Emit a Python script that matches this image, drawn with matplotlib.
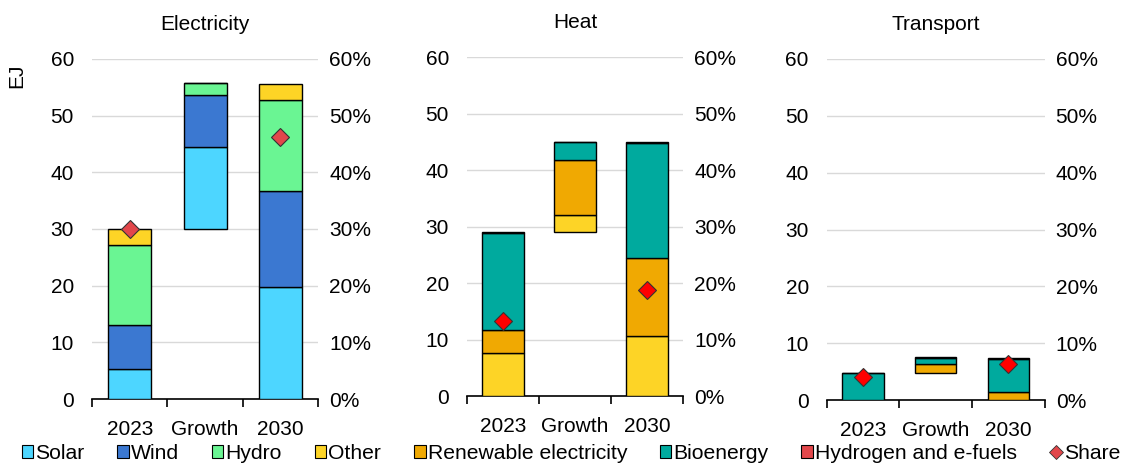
import numpy as np
import matplotlib.pyplot as plt
from matplotlib.patches import Patch
from matplotlib.lines import Line2D
from matplotlib.ticker import PercentFormatter

plt.rcParams['font.family'] = ['Liberation Sans', 'DejaVu Sans']
plt.rcParams['font.size'] = 15

categories = ['2023', 'Growth', '2030']

# Electricity (EJ) - segment sizes, base of each bar
elec_base = [0, 30.0, 0]
elec_solar = [5.3, 14.4, 19.7]
elec_wind = [7.8, 9.2, 17.0]
elec_hydro = [14.1, 2.1, 16.1]
elec_other = [2.8, 0.0, 2.7]
elec_share = [0.30, np.nan, 0.462]

# Heat (EJ)
heat_base = [0, 29.0, 0]
heat_other = [7.7, 3.0, 10.7]
heat_renew = [4.0, 9.8, 13.8]
heat_bio = [17.2, 3.1, 20.3]
heat_h2 = [0.1, 0.0, 0.1]
heat_share = [0.133, np.nan, 0.188]

# Transport (EJ)
trans_base = [0, 4.8, 0]
trans_renew = [0.05, 1.5, 1.5]
trans_bio = [4.7, 1.1, 5.8]
trans_h2 = [0.05, 0.1, 0.1]
trans_share = [0.040, np.nan, 0.064]

colors = {
    'Solar': '#4DD6FF',
    'Wind': '#3B78D1',
    'Hydro': '#6AF593',
    'Other': '#FDD426',
    'Renewable electricity': '#F0A902',
    'Bioenergy': '#00AA9E',
    'Hydrogen and e-fuels': '#E2474B',
}

panels = [
    ('Electricity', elec_base, [('Solar', elec_solar), ('Wind', elec_wind),
                                ('Hydro', elec_hydro), ('Other', elec_other)],
     elec_share, '#E2474B'),
    ('Heat', heat_base, [('Other', heat_other), ('Renewable electricity', heat_renew),
                         ('Bioenergy', heat_bio), ('Hydrogen and e-fuels', heat_h2)],
     heat_share, '#FF0000'),
    ('Transport', trans_base, [('Renewable electricity', trans_renew), ('Bioenergy', trans_bio),
                               ('Hydrogen and e-fuels', trans_h2)],
     trans_share, '#FF0000'),
]

positions = [
    [0.0816, 0.1474, 0.2004, 0.7266],
    [0.414, 0.1538, 0.1915, 0.7244],
    [0.733, 0.145, 0.193, 0.729],
]

fig = plt.figure(figsize=(11.28, 4.68), dpi=100)
x = np.arange(len(categories))

for (title, base, series, share, mcol), pos in zip(panels, positions):
    ax = fig.add_axes(pos)
    bottom = np.array(base, dtype=float)
    for name, vals in series:
        vals = np.array(vals, dtype=float)
        ax.bar(x, vals, bottom=bottom, width=0.57, color=colors[name],
               edgecolor='black', linewidth=1.0, zorder=3)
        bottom = bottom + vals

    ax.set_xlim(-0.5, 2.5)
    ax.set_ylim(0, 60)
    ax.set_yticks(range(0, 61, 10))
    ax.yaxis.grid(True, color='#D9D9D9', linewidth=1.0, zorder=0)
    ax.set_axisbelow(True)
    for s in ['top', 'right', 'left']:
        ax.spines[s].set_visible(False)
    ax.spines['bottom'].set_linewidth(1.2)
    ax.set_xticks(x)
    ax.set_xticklabels(categories)
    ax.set_xticks([-0.5, 0.5, 1.5, 2.5], minor=True)
    ax.tick_params(axis='x', which='major', length=0, pad=15)
    ax.tick_params(axis='x', which='minor', length=6, width=1.2, direction='out')
    ax.tick_params(axis='y', length=0, pad=13)
    ax.set_title(title, pad=21, fontsize=15)

    ax2 = ax.twinx()
    ax2.set_ylim(0, 0.6)
    ax2.yaxis.set_major_formatter(PercentFormatter(1.0, decimals=0))
    ax2.tick_params(axis='y', length=0, pad=8)
    for s in ['top', 'right', 'left', 'bottom']:
        ax2.spines[s].set_visible(False)
    ax2.plot(x, share, linestyle='none', marker='D', markersize=9.5,
             markerfacecolor=mcol, markeredgecolor='#333333', markeredgewidth=0.8, zorder=5)

    if title == 'Electricity':
        ax.set_ylabel('EJ')
        ax.yaxis.set_label_coords(-0.29, 0.95)

legend_names = ['Solar', 'Wind', 'Hydro', 'Other', 'Renewable electricity',
                'Bioenergy', 'Hydrogen and e-fuels']
handles = [Patch(facecolor=colors[n], edgecolor='black', linewidth=0.8, label=n)
           for n in legend_names]
handles.append(Line2D([], [], linestyle='none', marker='D', markersize=7,
                      markerfacecolor='#E2474B', markeredgecolor='#333333',
                      markeredgewidth=0.6, label='Share'))
fig.legend(handles=handles, loc='lower center', bbox_to_anchor=(0.506, -0.03), ncol=8,
           frameon=False, handlelength=0.55, handleheight=0.55, handletextpad=0.1,
           columnspacing=1.55, fontsize=15.2)

fig.savefig('out.png', dpi=100)
